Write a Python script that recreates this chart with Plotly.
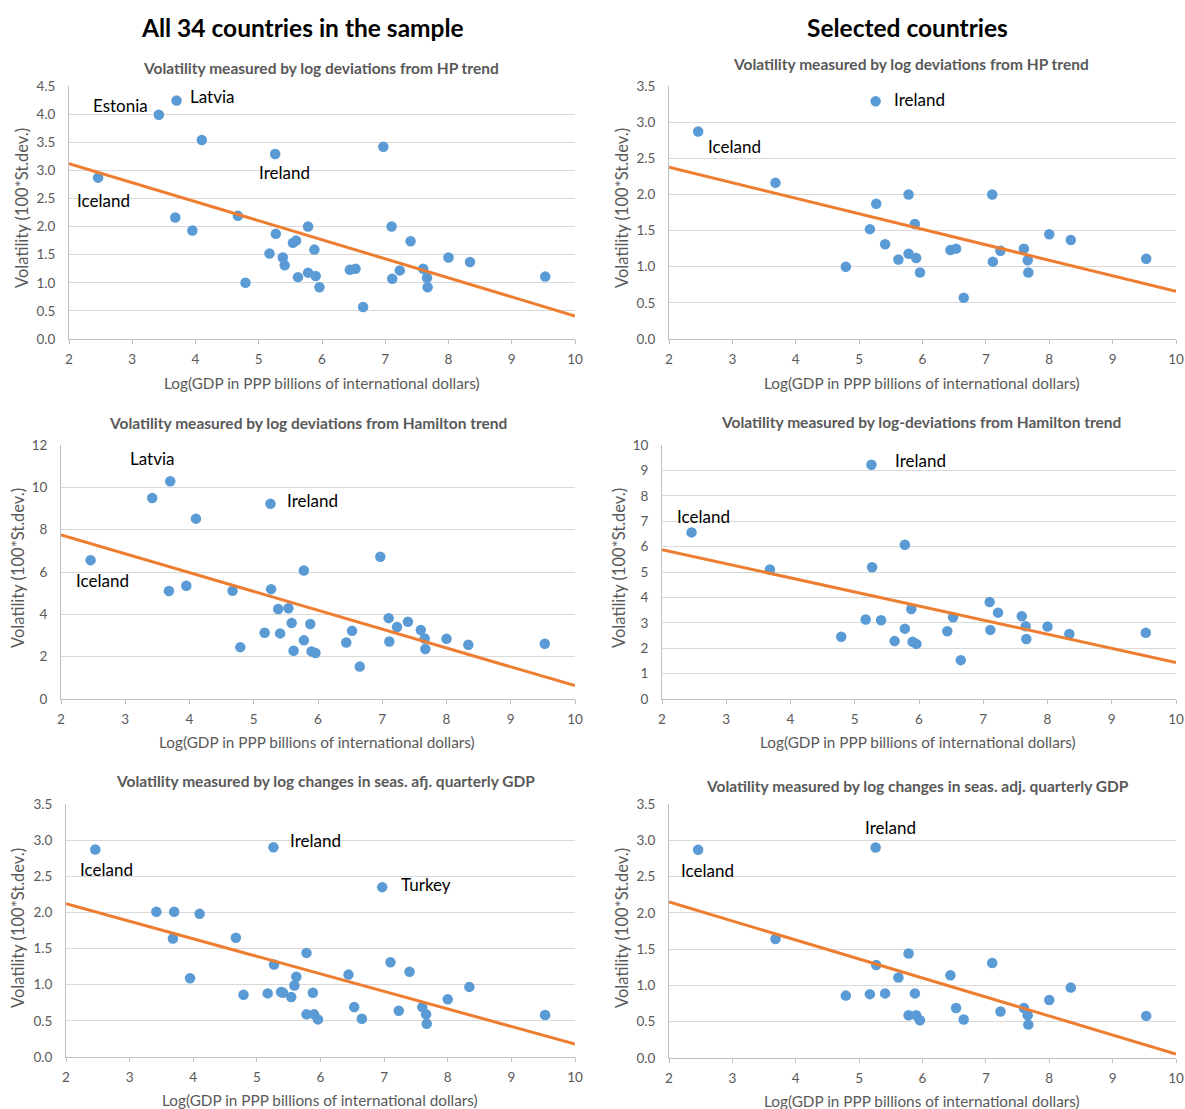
import plotly.graph_objects as go

W, H = 1185, 1109

# ---------------- data ----------------
log_gdp = [2.46, 3.42, 3.70, 4.10, 3.68, 3.95, 4.67, 4.79, 5.26, 5.27, 5.17, 5.38, 5.41,
           5.54, 5.59, 5.62, 5.78, 5.88, 5.78, 5.90, 5.96, 6.44, 6.53, 6.65, 6.97, 7.10,
           7.11, 7.23, 7.40, 7.60, 7.66, 7.67, 8.00, 8.34, 9.53]
vol_hp = [2.87, 3.99, 4.24, 3.54, 2.16, 1.93, 2.19, 1.00, 3.29, 1.87, 1.52, 1.45, 1.31,
          1.71, 1.75, 1.10, 2.00, 1.59, 1.18, 1.12, 0.92, 1.23, 1.25, 0.57, 3.42, 2.00,
          1.07, 1.22, 1.74, 1.25, 1.09, 0.92, 1.45, 1.37, 1.11]
vol_hamilton = [6.56, 9.50, 10.29, 8.52, 5.10, 5.35, 5.11, 2.45, 9.22, 5.19, 3.13, 4.25, 3.10,
                4.29, 3.59, 2.28, 6.07, 3.54, 2.77, 2.25, 2.17, 2.67, 3.22, 1.53, 6.72, 3.82,
                2.72, 3.40, 3.65, 3.26, 2.86, 2.36, 2.85, 2.56, 2.61]
vol_quarterly = [2.87, 2.01, 2.01, 1.98, 1.64, 1.09, 1.65, 0.86, 2.90, 1.28, 0.88, 0.90, 0.89,
                 0.83, 0.99, 1.11, 1.44, 0.89, 0.59, 0.59, 0.52, 1.14, 0.69, 0.53, 2.35, 1.31,
                 None, 0.64, 1.18, 0.69, 0.59, 0.46, 0.80, 0.97, 0.58]
selected = [1, 0, 0, 0, 1, 0, 0, 1, 1, 1, 1, 0, 1,
            0, 0, 1, 1, 1, 1, 1, 1, 1, 1, 1, 0, 1,
            1, 1, 0, 1, 1, 1, 1, 1, 1]

trend_x = [2, 10]
trend_hp_all = [3.12, 0.41]
trend_hp_sel = [2.375, 0.66]
trend_ham_all = [7.75, 0.63]
trend_ham_sel = [5.88, 1.44]
trend_q_all = [2.12, 0.18]
trend_q_sel = [2.15, 0.055]

main_titles = ["All 34 countries in the sample", "Selected countries"]
panel_titles = [
    "Volatility measured by log deviations from HP trend",
    "Volatility measured by log deviations from HP trend",
    "Volatility measured by log deviations from Hamilton trend",
    "Volatility measured by log-deviations from Hamilton trend",
    "Volatility measured by log changes in seas. afj. quarterly GDP",
    "Volatility measured by log changes in seas. adj. quarterly GDP",
]
x_title = "Log(GDP in PPP billions of international dollars)"
y_title = "Volatility (100*St.dev.)"

# ---------------- styling / layout ----------------
FONT = "Lato, 'Open Sans', sans-serif"
DOT = "#5B9BD5"
LINE = "#ED7D31"
GREY = "#595959"
GRID = "#D9D9D9"
AXIS = "#BFBFBF"


def px(x, y):
    return x / W, 1 - y / H


# pixel boxes of plot areas: (x0, x1, ytop, ybottom)
boxes = [
    (69, 575, 86, 339),
    (669, 1176, 86, 339),
    (61, 575, 445, 699),
    (662, 1176, 445, 699),
    (66, 575, 804, 1057),
    (669, 1176, 804, 1058),
]
yranges = [(0, 4.5, 0.5, ".1f"), (0, 3.5, 0.5, ".1f"), (0, 12, 2, "d"),
           (0, 10, 1, "d"), (0, 3.5, 0.5, ".1f"), (0, 3.5, 0.5, ".1f")]

series = [
    (vol_hp, False, trend_hp_all),
    (vol_hp, True, trend_hp_sel),
    (vol_hamilton, False, trend_ham_all),
    (vol_hamilton, True, trend_ham_sel),
    (vol_quarterly, False, trend_q_all),
    (vol_quarterly, True, trend_q_sel),
]

# label positions (data coords) per panel
labels = [
    [("Estonia", 2.82, 4.15), ("Latvia", 4.26, 4.32), ("Ireland", 5.40, 2.97), ("Iceland", 2.54, 2.47)],
    [("Ireland", 5.96, 3.31), ("Iceland", 3.04, 2.66)],
    [("Latvia", 3.42, 11.34), ("Ireland", 5.91, 9.40), ("Iceland", 2.65, 5.62)],
    [("Ireland", 6.03, 9.37), ("Iceland", 2.65, 7.20)],
    [("Ireland", 5.92, 2.99), ("Turkey", 7.66, 2.39), ("Iceland", 2.63, 2.59)],
    [("Ireland", 5.50, 3.18), ("Iceland", 2.60, 2.59)],
]

title_pos = [(321, 68), (911, 64), (308, 423), (921, 422), (325, 781), (917, 786)]
xtitle_pos = [(322, 383), (922, 383), (317, 742), (918, 742), (320, 1100), (922, 1101)]
ytitle_pos = [(22, 208), (622, 208), (18, 568), (619, 568), (18, 928), (622, 928)]

fig = go.Figure()
annotations = []

for i in range(6):
    n = i + 1
    xa = "x" if n == 1 else f"x{n}"
    ya = "y" if n == 1 else f"y{n}"
    vals, sel_only, trend = series[i]
    xs = [x for x, s in zip(log_gdp, selected) if (s or not sel_only)]
    ys = [v for v, s in zip(vals, selected) if (s or not sel_only)]
    fig.add_trace(go.Scatter(x=xs, y=ys, mode="markers", xaxis=xa, yaxis=ya,
                             marker=dict(color=DOT, size=10.5), showlegend=False,
                             hoverinfo="skip"))
    fig.add_trace(go.Scatter(x=trend_x, y=trend, mode="lines", xaxis=xa, yaxis=ya,
                             line=dict(color=LINE, width=3), showlegend=False,
                             hoverinfo="skip"))

    x0, x1, yt, yb = boxes[i]
    lo, hi, dt, fmt = yranges[i]
    fig.layout[f"xaxis{'' if n == 1 else n}"] = dict(
        domain=[x0 / W, x1 / W], anchor=ya, range=[2, 10], dtick=1, tick0=2,
        showgrid=False, zeroline=False, showline=True, linecolor=AXIS, linewidth=1,
        ticks="outside", ticklen=4, tickcolor=AXIS, automargin=False,
        ticklabelstandoff=4,
        tickfont=dict(family=FONT, size=13.5, color=GREY))
    fig.layout[f"yaxis{'' if n == 1 else n}"] = dict(
        domain=[1 - yb / H, 1 - yt / H], anchor=xa, range=[lo, hi], dtick=dt, tick0=0,
        tickformat=fmt, showgrid=True, gridcolor=GRID, gridwidth=1, zeroline=False,
        showline=True, linecolor=AXIS, linewidth=1, ticks="", automargin=False,
        ticklabelstandoff=10,
        tickfont=dict(family=FONT, size=13.5, color=GREY))

    for txt, lx, ly in labels[i]:
        annotations.append(dict(text=txt, x=lx, y=ly, xref=xa, yref=ya, showarrow=False,
                                font=dict(family=FONT, size=17, color="#000000")))

    tx, ty = px(*title_pos[i])
    annotations.append(dict(text=f"<b>{panel_titles[i]}</b>", x=tx, y=ty, xref="paper", yref="paper",
                            showarrow=False, xanchor="center", yanchor="middle",
                            font=dict(family=FONT, size=15.5, color=GREY)))
    tx, ty = px(*xtitle_pos[i])
    annotations.append(dict(text=x_title, x=tx, y=ty, xref="paper", yref="paper",
                            showarrow=False, xanchor="center", yanchor="middle",
                            font=dict(family=FONT, size=15.3, color=GREY)))
    tx, ty = px(*ytitle_pos[i])
    annotations.append(dict(text=y_title, x=tx, y=ty, xref="paper", yref="paper",
                            showarrow=False, xanchor="center", yanchor="middle", textangle=-90,
                            font=dict(family=FONT, size=16.5, color=GREY)))

for t, (cx, cy) in zip(main_titles, [(302, 27), (907, 27)]):
    tx, ty = px(cx, cy)
    annotations.append(dict(text=f"<b>{t}</b>", x=tx, y=ty, xref="paper", yref="paper",
                            showarrow=False, xanchor="center", yanchor="middle",
                            font=dict(family=FONT, size=24.5, color="#000000")))

fig.update_layout(width=W, height=H, margin=dict(l=0, r=0, t=0, b=0, pad=0, autoexpand=False),
                  paper_bgcolor="white", plot_bgcolor="white", hovermode=False,
                  annotations=annotations, showlegend=False)

fig.write_html("out.html", config={"displayModeBar": False},
               post_script="document.body.style.margin='0';document.body.style.padding='0';")
